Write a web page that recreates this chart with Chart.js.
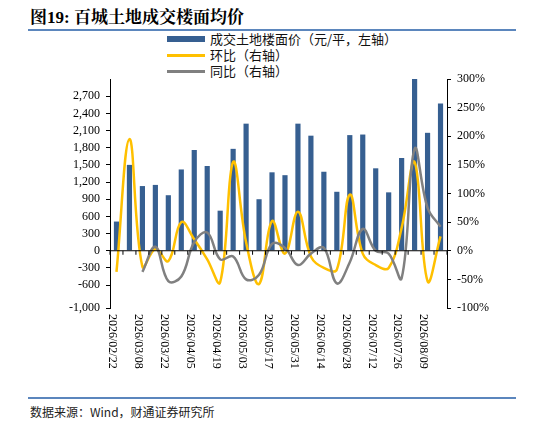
<!DOCTYPE html><html><head><meta charset="utf-8">
<script src="https://cdn.jsdelivr.net/npm/chart.js@4"></script>
<style>
body{margin:0;width:533px;height:428px;position:relative;background:#fff;font-family:"Noto Sans CJK SC";overflow:hidden}
#t{position:absolute;left:30px;top:3px;font-size:17px;font-weight:bold;font-family:"Liberation Serif","Noto Serif CJK SC","Noto Sans CJK SC"}
.ln{position:absolute;left:28px;width:488px;height:1.5px;background:#5b86bd}
#f{position:absolute;left:30px;top:403px;font-size:12px;color:#222}
#lg{position:absolute;left:167px;top:31px;font-size:13px;line-height:16px;color:#111}
#lg div{display:flex;align-items:center}
#lg span.s{display:inline-block;width:38px;margin-right:5px}
canvas{position:absolute;left:0;top:0}
</style></head><body>
<div id="t">图19: 百城土地成交楼面均价</div>
<div class="ln" style="top:29px"></div>
<div id="lg">
<div><span class="s" style="height:6px;background:#365f91"></span>成交土地楼面价（元/平，左轴）</div>
<div><span class="s" style="height:3px;background:#ffc000"></span>环比（右轴）</div>
<div><span class="s" style="height:3px;background:#808080"></span>同比（右轴）</div>
</div>
<div class="ln" style="top:397px"></div>
<div id="f">数据来源：Wind，财通证券研究所</div>
<canvas id="c" width="533" height="428"></canvas>
<script>
const categories=["2026/02/22","2026/03/01","2026/03/08","2026/03/15","2026/03/22","2026/03/29","2026/04/05","2026/04/12","2026/04/19","2026/04/26","2026/05/03","2026/05/10","2026/05/17","2026/05/24","2026/05/31","2026/06/07","2026/06/14","2026/06/21","2026/06/28","2026/07/05","2026/07/12","2026/07/19","2026/07/26","2026/08/02","2026/08/09","2026/08/16"];
const price=[510,1500,1130,1150,970,1420,1760,1480,700,1780,2220,900,1370,1320,2220,2010,1380,1030,2020,2030,1440,1020,1620,3100,2060,2570];
const mom=[-37,195,-28,3,-18,50,20,-15,-55,155,15,-58,52,-5,68,-10,-30,-33,98,-5,-25,-30,40,155,-53,25];
const yoy=[null,null,-37,7,-53,-45,15,32,-15,-10,-50,-42,12,5,-25,-5,5,-57,-20,38,0,-5,-48,178,75,42];
const fontS={family:"Liberation Serif",size:12};
const xlab={id:'xlab',afterDraw(ch){const c=ch.ctx,x=ch.scales.x,y=ch.scales.y,y0=y.getPixelForValue(0),a=ch.chartArea;
c.save();c.strokeStyle='#000';c.lineWidth=1;c.beginPath();c.moveTo(a.left,y0);c.lineTo(a.right,y0);c.stroke();
c.font='12px "Liberation Serif"';c.fillStyle='#000';
categories.forEach((l,i)=>{const px=x.getPixelForValue(i);if(i%2==0){c.save();c.translate(px-4,a.bottom+6);c.rotate(Math.PI/2);c.textBaseline='middle';c.fillText(l,0,0);c.restore();}});
for(let i=0;i<=categories.length;i++){const px=(x.getPixelForValue(0)+x.getPixelForValue(1))/2-x.getPixelForValue(0)+x.getPixelForValue(i)-(x.getPixelForValue(1)-x.getPixelForValue(0));c.beginPath();c.moveTo(px,y0);c.lineTo(px,y0+4);c.stroke();}
c.restore();}};
new Chart(document.getElementById('c'),{data:{labels:categories,datasets:[
{type:'line',data:yoy,borderColor:'#808080',borderWidth:2.5,pointRadius:0,tension:0.4,yAxisID:'y1',spanGaps:false},
{type:'line',data:mom,borderColor:'#ffc000',borderWidth:2.5,pointRadius:0,tension:0.4,yAxisID:'y1'},
{type:'bar',data:price,backgroundColor:'#365f91',barPercentage:0.4,categoryPercentage:1,yAxisID:'y'}]},
options:{responsive:false,animation:false,layout:{padding:{top:79}},plugins:{legend:{display:false},tooltip:{enabled:false}},
scales:{x:{offset:true,grid:{display:false},border:{display:false},ticks:{display:false},afterFit(s){s.height=120}},
y:{min:-1000,max:3000,clip:true,afterBuildTicks(s){s.ticks=s.ticks.filter(t=>t.value<3000)},ticks:{stepSize:300,color:'#000',font:fontS,padding:6},grid:{drawOnChartArea:false,tickLength:4,color:'#000'},border:{color:'#000'},afterFit(s){s.width=110}},
y1:{position:'right',min:-100,max:300,ticks:{stepSize:50,color:'#000',font:fontS,padding:6,callback:v=>v+'%'},grid:{drawOnChartArea:false,tickLength:4,color:'#000'},border:{color:'#000'},afterFit(s){s.width=86}}}},
plugins:[xlab]});
</script></body></html>
